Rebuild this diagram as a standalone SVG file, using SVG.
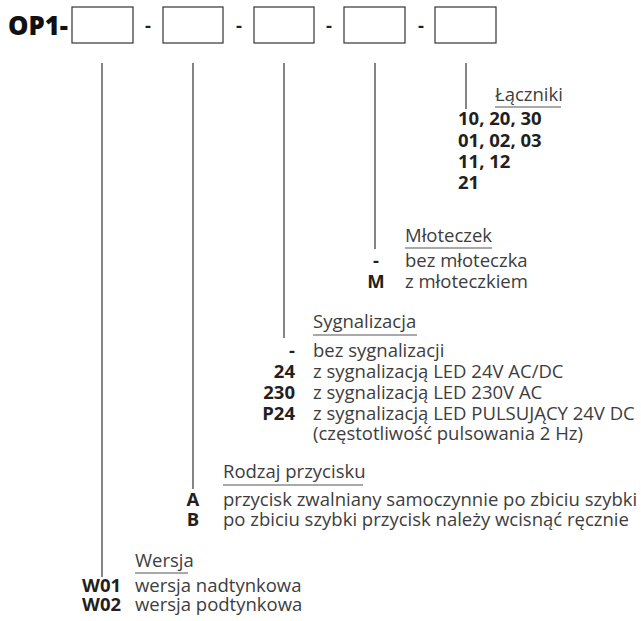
<svg xmlns="http://www.w3.org/2000/svg" width="641" height="621" viewBox="0 0 641 621">
<style>
text{font-family:"Open Sans","Noto Sans","Liberation Sans",sans-serif;font-size:18.5px;fill:#3d3d3d}
.b{font-weight:700;fill:#231f20}
.t{font-weight:800;fill:#111;font-size:27px}
.box{fill:#fff;stroke:#333;stroke-width:1.2}
.con{stroke:#333;stroke-width:1.2;fill:none}
.ul{stroke:#8c8c8c;stroke-width:1.5}
.m{text-anchor:middle}
.e{text-anchor:end}
</style>
<rect width="641" height="621" fill="#fff"/>
<g id="code">
<text class="t" x="8" y="35" textLength="60" lengthAdjust="spacingAndGlyphs">OP1-</text>
<rect class="box" x="72" y="7" width="61" height="36"/>
<text class="b m" x="148" y="32">-</text>
<rect class="box" x="163" y="7" width="60" height="36"/>
<text class="b m" x="239" y="32">-</text>
<rect class="box" x="254" y="7" width="60" height="36"/>
<text class="b m" x="329" y="32">-</text>
<rect class="box" x="344" y="7" width="61" height="36"/>
<text class="b m" x="421" y="32">-</text>
<rect class="box" x="435" y="7" width="61" height="36"/>
</g>
<g id="connectors">
<line class="con" x1="102" y1="63" x2="102" y2="577"/>
<line class="con" x1="193" y1="63" x2="193" y2="489"/>
<line class="con" x1="284" y1="63" x2="284" y2="338"/>
<line class="con" x1="375" y1="63" x2="375" y2="249"/>
<line class="con" x1="466" y1="63" x2="466" y2="109"/>
</g>
<g id="laczniki">
<text x="495" y="101">Łączniki</text>
<line class="ul" x1="495" y1="107" x2="561" y2="107"/>
<text class="b" x="458" y="125">10, 20, 30</text>
<text class="b" x="458" y="147">01, 02, 03</text>
<text class="b" x="458" y="168">11, 12</text>
<text class="b" x="458" y="189">21</text>
</g>
<g id="mloteczek">
<text x="405" y="242">Młoteczek</text>
<line class="ul" x1="405" y1="248" x2="492" y2="248"/>
<text class="b m" x="376" y="267">-</text>
<text x="405" y="267">bez młoteczka</text>
<text class="b m" x="376" y="288">M</text>
<text x="405" y="288">z młoteczkiem</text>
</g>
<g id="sygnalizacja">
<text x="313" y="328">Sygnalizacja</text>
<line class="ul" x1="313" y1="335" x2="417" y2="335"/>
<text class="b e" x="295" y="357">-</text>
<text x="313" y="357">bez sygnalizacji</text>
<text class="b e" x="295" y="378">24</text>
<text x="313" y="378">z sygnalizacją LED 24V AC/DC</text>
<text class="b e" x="295" y="399">230</text>
<text x="313" y="399">z sygnalizacją LED 230V AC</text>
<text class="b e" x="295" y="420">P24</text>
<text x="313" y="420">z sygnalizacją LED PULSUJĄCY 24V DC</text>
<text x="313" y="440">(częstotliwość pulsowania 2 Hz)</text>
</g>
<g id="rodzaj">
<text x="223" y="478">Rodzaj przycisku</text>
<line class="ul" x1="223" y1="485" x2="363" y2="485"/>
<text class="b m" x="193" y="506">A</text>
<text x="223" y="506">przycisk zwalniany samoczynnie po zbiciu szybki</text>
<text class="b m" x="193" y="526">B</text>
<text x="223" y="526">po zbiciu szybki przycisk należy wcisnąć ręcznie</text>
</g>
<g id="wersja">
<text x="135" y="567">Wersja</text>
<line class="ul" x1="135" y1="573" x2="188" y2="573"/>
<text class="b" x="82" y="592">W01</text>
<text x="135" y="592">wersja nadtynkowa</text>
<text class="b" x="82" y="611">W02</text>
<text x="135" y="611">wersja podtynkowa</text>
</g>
</svg>
